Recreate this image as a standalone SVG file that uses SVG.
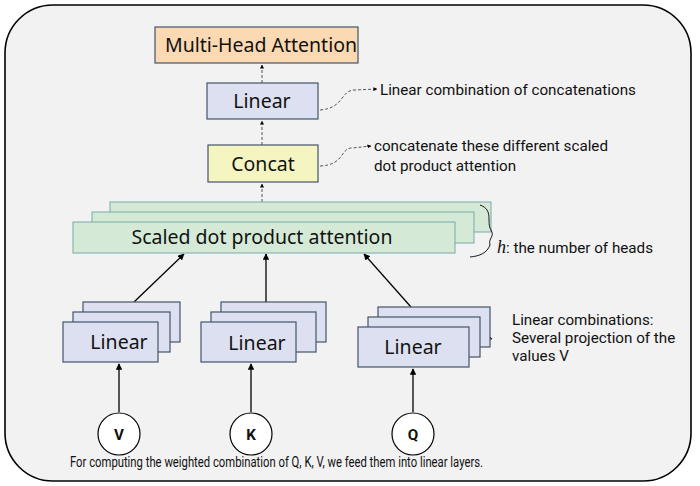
<svg xmlns="http://www.w3.org/2000/svg" width="700" height="486" viewBox="0 0 700 486">
<defs>
<marker id="a" viewBox="0 0 10 10" refX="9" refY="5" markerWidth="5" markerHeight="5" orient="auto"><path d="M0,0L10,5L0,10z" fill="#000"/></marker>
<marker id="s" viewBox="0 0 10 10" refX="9" refY="5" markerWidth="4" markerHeight="4" orient="auto"><path d="M0,0L10,5L0,10z" fill="#000"/></marker>
</defs>
<style>
.n{font-family:"Noto Sans","Open Sans",sans-serif;font-size:19.5px;fill:#111;text-anchor:middle}
.t{font-family:Roboto,"Noto Sans",sans-serif;font-size:15.2px;fill:#111}
.lin{fill:#dde0f0;stroke:#44546a;stroke-width:1.2}
.grn{fill:#d4ead6;stroke:#7aa;stroke-width:1}
.c{fill:#fff;stroke:#000;stroke-width:1.2}
.ln{stroke:#000;stroke-width:1.3;fill:none}
.d{stroke:#555;stroke-width:1;fill:none;stroke-dasharray:3,2}
</style>
<rect x="5" y="5" width="686" height="476" rx="48" fill="#f2f2f2" stroke="#000" stroke-width="1.6"/>
<g id="connectors">
<path class="ln" d="M119,412V364" marker-end="url(#a)"/>
<path class="ln" d="M251,412V364" marker-end="url(#a)"/>
<path class="ln" d="M413,412V369" marker-end="url(#a)"/>
<path class="ln" d="M134,302L184,254" marker-end="url(#a)"/>
<path class="ln" d="M266,302V254" marker-end="url(#a)"/>
<path class="ln" d="M411,307L364,254" marker-end="url(#a)"/>
<path class="d" d="M262,202V184" marker-end="url(#s)"/>
<path class="d" d="M262,145V121" marker-end="url(#s)"/>
<path class="d" d="M262,83V65" marker-end="url(#s)"/>
<path class="d" d="M320,110C345,108 340,90 355,90L377,89" marker-end="url(#s)"/>
<path class="d" d="M320,166C345,165 340,148 352,148L371,146" marker-end="url(#s)"/>
<path class="d" d="M475,334C482,334 485,337 492,339" marker-end="url(#s)"/>
</g>
<g id="mha"><rect x="155" y="27" width="203" height="36" fill="#fbd9b2" stroke="#44546a" stroke-width="1.2"/><text class="n" x="261" y="52">Multi-Head Attention</text></g>
<g id="linear-top"><rect x="207" y="83" width="111" height="36" class="lin"/><text class="n" x="262" y="108">Linear</text></g>
<g id="concat"><rect x="208" y="145" width="110" height="37" fill="#f5f5c2" stroke="#44546a" stroke-width="1.2"/><text class="n" x="263" y="171">Concat</text></g>
<g id="attention">
<rect x="110" y="202" width="381" height="30" class="grn"/>
<rect x="92" y="212" width="382" height="31" class="grn"/>
<rect x="73" y="222" width="382" height="31" class="grn"/>
<text class="n" x="262" y="244">Scaled dot product attention</text>
</g>
<g id="heads">
<path d="M480,205C494,210 486,222 491,230C495,237 488,238 490,245C487,253 480,256 470,257" fill="none" stroke="#000" stroke-width="0.9"/>
<text class="t" x="497" y="253" font-size="16"><tspan font-family="Liberation Serif,serif" font-style="italic" font-size="18">h</tspan>: the number of heads</text>
</g>
<g id="linear-v"><rect x="83" y="302" width="97" height="40" class="lin"/><rect x="73" y="312" width="97" height="40" class="lin"/><rect x="63" y="322" width="95" height="40" class="lin"/><text class="n" x="119" y="349">Linear</text></g>
<g id="linear-k"><rect x="221" y="302" width="105" height="40" class="lin"/><rect x="211" y="312" width="105" height="40" class="lin"/><rect x="201" y="322" width="95" height="40" class="lin"/><text class="n" x="257" y="350">Linear</text></g>
<g id="linear-q"><rect x="378" y="307" width="112" height="40" class="lin"/><rect x="368" y="317" width="112" height="40" class="lin"/><rect x="358" y="327" width="111" height="40" class="lin"/><text class="n" x="413" y="354">Linear</text></g>
<g id="v"><circle cx="119" cy="434" r="21" class="c"/><text class="t" x="119" y="440" text-anchor="middle" font-weight="bold">V</text></g>
<g id="k"><circle cx="251" cy="434" r="21" class="c"/><text class="t" x="251" y="440" text-anchor="middle" font-weight="bold">K</text></g>
<g id="q"><circle cx="413" cy="434" r="21" class="c"/><text class="t" x="413" y="440" text-anchor="middle" font-weight="bold">Q</text></g>
<g id="labels">
<text class="t" x="380" y="95" font-size="16.3">Linear combination of concatenations</text>
<text class="t" x="374" y="151">concatenate these different scaled</text>
<text class="t" x="374" y="171">dot product attention</text>
<text class="t" x="512" y="325">Linear combinations:</text>
<text class="t" x="512" y="343">Several projection of the</text>
<text class="t" x="512" y="361">values V</text>
<text class="t" x="70" y="467" font-size="11" textLength="413" lengthAdjust="spacingAndGlyphs">For computing the weighted combination of Q, K, V, we feed them into linear layers.</text>
</g>
</svg>
